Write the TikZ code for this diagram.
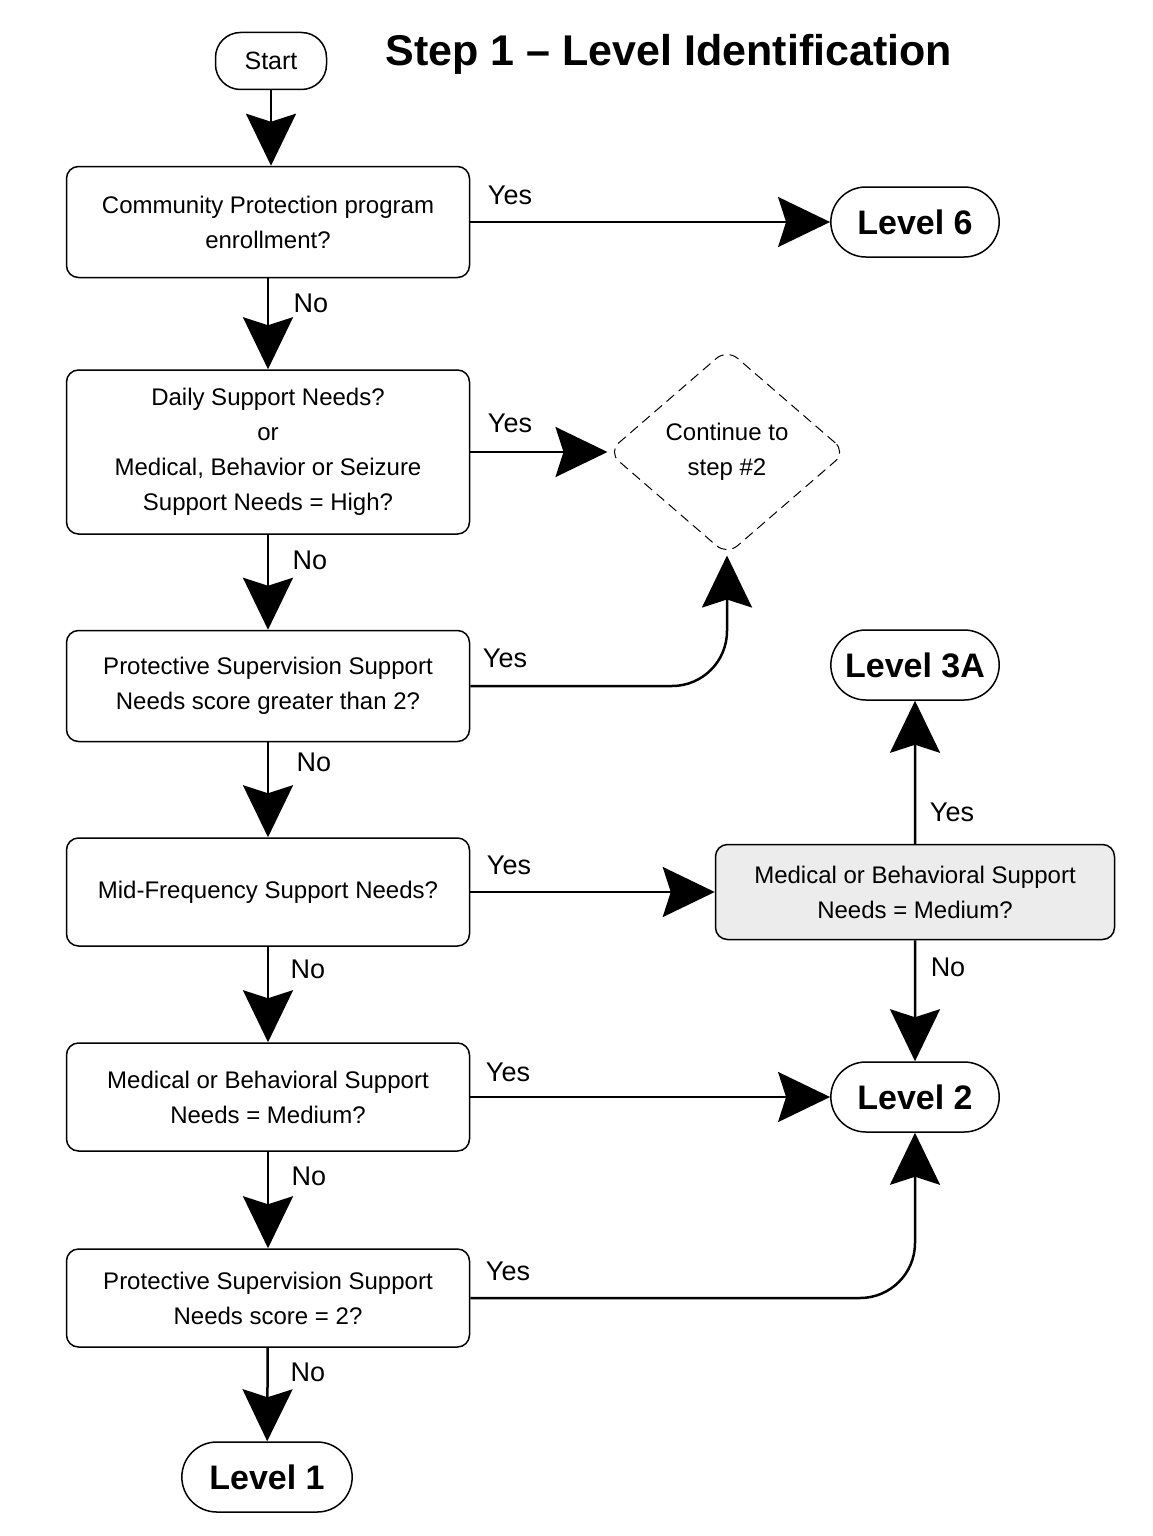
\documentclass[tikz,border=0pt]{standalone}
\usepackage{fontspec}
\setmainfont{Liberation Sans}
\usetikzlibrary{arrows.meta,shapes.geometric,shapes.misc}

\tikzset{
  box/.style={draw, rectangle, rounded corners=12pt, line width=1.5pt, minimum width=403pt, align=center, font=\fontsize{24}{35}\selectfont},
  term/.style={draw, rounded rectangle, line width=1.5pt, minimum width=175pt, minimum height=70pt, font=\fontsize{34}{40}\selectfont\bfseries},
  lbl/.style={font=\fontsize{27}{32}\selectfont},
  flow/.style={line width=2.5pt, -{Stealth[length=52pt,width=50pt,inset=8pt]}},
}

\begin{document}
\begin{tikzpicture}[x=1pt,y=1pt]
        \useasboundingbox (0,0) rectangle (1153,-1536);
        % Header
        \node[draw, rounded corners=25pt, line width=1.5pt, minimum width=111pt, minimum height=57pt, font=\fontsize{25}{29}\selectfont] (start) at (271,-61) {Start};
        \node[font=\fontsize{43}{50}\selectfont\bfseries] (title) at (669,-54) {Step 1 – Level Identification};

        % Questions
        \node[box, minimum height=111pt] (q1) at (268,-222) {Community Protection program\\enrollment?};
        \node[box, minimum height=164pt] (q2) at (268,-452) {Daily Support Needs?\\or\\Medical, Behavior or Seizure\\Support Needs = High?};
        \node[box, minimum height=111pt] (q3) at (268,-686) {Protective Supervision Support\\Needs score greater than 2?};
        \node[box, minimum height=108pt] (q4) at (268,-892) {Mid-Frequency Support Needs?};
        \node[box, minimum height=108pt] (q6) at (268,-1097) {Medical or Behavioral Support\\Needs = Medium?};
        \node[box, minimum height=98pt] (q7) at (268,-1298) {Protective Supervision Support\\Needs score = 2?};
        \node[box, minimum width=399pt, minimum height=95pt, fill=gray!15] (q5) at (915,-892) {Medical or Behavioral Support\\Needs = Medium?};

        % Results
        \node[term] (lv6) at (915,-222) {Level 6};
        \node[term] (lv3a) at (915,-665) {Level 3A};
        \node[term] (lv2) at (915,-1097) {Level 2};
        \node[term, minimum width=177pt] (lv1) at (267,-1477) {Level 1};
        \node[draw, diamond, dashed, dash pattern=on 10pt off 6pt, rounded corners=14pt, line width=1pt, minimum width=238pt, minimum height=206pt, aspect=1.15, inner sep=0pt, align=center, font=\fontsize{24}{35}\selectfont] (cont) at (727,-452) {Continue to\\step \#2};

        % Arrows
        \draw[flow] (start) -- (start |- q1.north);
        \draw[flow] (q1) -- (q2);
        \draw[flow] (q2) -- (cont);
        \draw[flow] (q2) -- (q3);
        \draw[flow] (q3) -- (q4);
        \draw[flow] (q4) -- (q6);
        \draw[flow] (q6) -- (q7);
        \draw[flow] (q7) -- (lv1);
        \draw[flow] (q1) -- (lv6);
        \draw[flow, rounded corners=55pt] (q3.east) -| (cont.south);
        \draw[flow] (q4) -- (q5);
        \draw[flow] (q5) -- (lv3a);
        \draw[flow] (q5) -- (lv2);
        \draw[flow] (q6) -- (lv2);
        \draw[flow, rounded corners=55pt] (q7.east) -| (lv2.south);

        % Labels
        \node[lbl] (y1) at (510,-195) {Yes};
        \node[lbl] (n1) at (311,-303) {No};
        \node[lbl] (y2) at (510,-423) {Yes};
        \node[lbl] (n2) at (310,-560) {No};
        \node[lbl] (y3) at (505,-658) {Yes};
        \node[lbl] (n3) at (314,-762) {No};
        \node[lbl] (y4) at (509,-865) {Yes};
        \node[lbl] (n4) at (308,-969) {No};
        \node[lbl] (y5) at (952,-812) {Yes};
        \node[lbl] (n5) at (948,-967) {No};
        \node[lbl] (y6) at (508,-1072) {Yes};
        \node[lbl] (n6) at (309,-1176) {No};
        \node[lbl] (y7) at (508,-1271) {Yes};
        \node[lbl] (n7) at (308,-1372) {No};
\end{tikzpicture}
\end{document}
